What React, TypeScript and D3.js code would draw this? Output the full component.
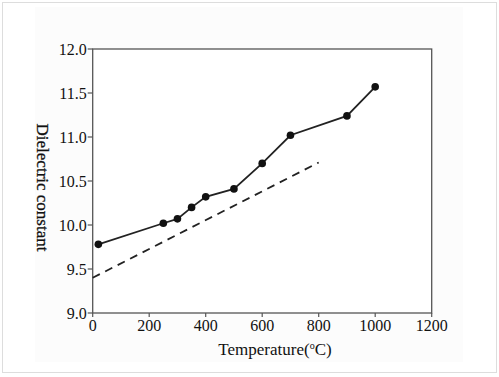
import React from "react";
import * as d3 from "d3";

const measuredT = [20, 250, 300, 350, 400, 500, 600, 700, 900, 1000];
const measuredK = [9.78, 10.02, 10.07, 10.2, 10.32, 10.41, 10.7, 11.02, 11.24, 11.57];
const fitT = [0, 800];
const fitK = [9.4, 10.71];
const xTicks = [0, 200, 400, 600, 800, 1000, 1200];
const yTicks = [9.0, 9.5, 10.0, 10.5, 11.0, 11.5, 12.0];

const W = 499, H = 377;
const M = { left: 92.7, right: 431.7, top: 49, bottom: 313 };

export default function App() {
  const x = d3.scaleLinear().domain([0, 1200]).range([M.left, M.right]);
  const y = d3.scaleLinear().domain([9, 12]).range([M.bottom, M.top]);
  const lineGen = d3.line<[number, number]>().x(d => x(d[0])).y(d => y(d[1]));
  const solid = lineGen(measuredT.map((t, i) => [t, measuredK[i]] as [number, number]));
  const dashed = lineGen(fitT.map((t, i) => [t, fitK[i]] as [number, number]));
  const font = "'Liberation Serif', 'Times New Roman', serif";
  const axisColor = "#555";
  return (
    <svg width={W} height={H} style={{ position: "absolute", left: 0, top: 0, background: "#fff" }}>
      <rect x={2.5} y={2.5} width={494} height={370} fill="#fff" stroke="#ddd" strokeWidth={1} />
      <rect x={35} y={7} width={428} height={355} fill="#fcfcfc" />
      <rect x={M.left} y={M.top} width={M.right - M.left} height={M.bottom - M.top} fill="#fff" stroke={axisColor} strokeWidth={1.3} />
      {yTicks.map(t => (
        <g key={"y" + t}>
          <line x1={M.left - 5} x2={M.left} y1={y(t)} y2={y(t)} stroke={axisColor} strokeWidth={1.2} />
          <text x={M.left - 6} y={y(t)} dy="0.35em" textAnchor="end" fontFamily={font} fontSize={16} fill="#111">{t.toFixed(1)}</text>
        </g>
      ))}
      {xTicks.map(t => (
        <g key={"x" + t}>
          <line x1={x(t)} x2={x(t)} y1={M.bottom} y2={M.bottom + 4} stroke={axisColor} strokeWidth={1.2} />
          <text x={x(t)} y={M.bottom + 18} textAnchor="middle" fontFamily={font} fontSize={16} fill="#111">{t}</text>
        </g>
      ))}
      <text x={275} y={355} textAnchor="middle" fontFamily={font} fontSize={17} fill="#111">
        Temperature(<tspan dy={-6} fontSize={10}>o</tspan><tspan dy={6}>C)</tspan>
      </text>
      <text transform={`translate(37,${(123 + 252) / 2}) rotate(90)`} textAnchor="middle" fontFamily={font} fontSize={17} fill="#111" stroke="#111" strokeWidth={0.3}>Dielectric constant</text>
      <path d={dashed || ""} fill="none" stroke="#222" strokeWidth={1.8} strokeDasharray="8,6" />
      <path d={solid || ""} fill="none" stroke="#222" strokeWidth={1.8} />
      {measuredT.map((t, i) => (
        <circle key={"p" + t} cx={x(t)} cy={y(measuredK[i])} r={3.8} fill="#111" />
      ))}
    </svg>
  );
}
